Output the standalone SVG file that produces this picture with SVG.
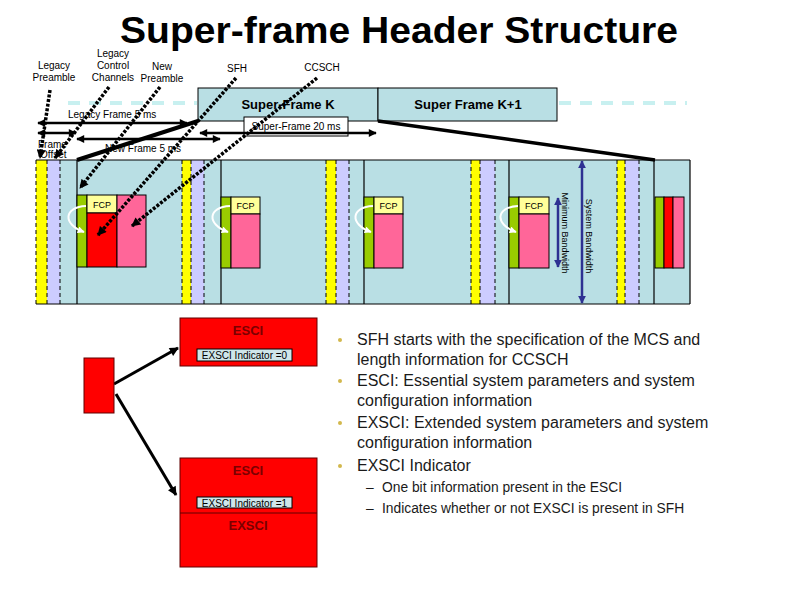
<svg xmlns="http://www.w3.org/2000/svg" width="800" height="600" viewBox="0 0 800 600">
<style>
text{font-family:"Liberation Sans",Arial,sans-serif;fill:#000}
.lbl{font-size:10px}
.title{font-size:37px;font-weight:bold}
.sf{fill:#b9dfe4;stroke:#000;stroke-width:1}
.sft{font-size:13px;font-weight:bold}
.yel{fill:#ffff00}
.lav{fill:#ccccff}
.dash{stroke:#000;stroke-width:1;stroke-dasharray:4,3}
.solid{stroke:#000;stroke-width:1.2}
.grn{fill:#99cc00;stroke:#000;stroke-width:1}
.fcp{fill:#ffff99;stroke:#000;stroke-width:1}
.red{fill:#ff0000;stroke:#000;stroke-width:1}
.pink{fill:#ff6699;stroke:#000;stroke-width:1}
.fcpt{font-size:9px}
.dot{fill:none;stroke:#000;stroke-width:3.5;stroke-dasharray:3,1.6}
.arr{fill:none;stroke:#000;stroke-width:2.5}
.wc{fill:none;stroke:#fff;stroke-width:2}
.blue{stroke:#2e3192;stroke-width:2.5}
.esci{fill:#ff0000;stroke:#600000;stroke-width:1}
.esct{font-size:13px;font-weight:bold;fill:#7a0000}
.ind{fill:#cfe6ea;stroke:#000;stroke-width:1}
.indt{font-size:10px}
.bul{font-size:16px;fill:#1a1a1a}
.sub{font-size:13.8px;fill:#1a1a1a}
.bd{fill:#d2b84c}
</style>
<defs>
<marker id="ah" viewBox="0 0 10 10" refX="9" refY="5" markerWidth="10" markerHeight="8" markerUnits="userSpaceOnUse" orient="auto-start-reverse"><path d="M0,0 L10,5 L0,10 z" fill="#000"/></marker>
<marker id="dh" viewBox="0 0 10 10" refX="9" refY="5" markerWidth="10" markerHeight="9" markerUnits="userSpaceOnUse" orient="auto"><path d="M0,0 L10,5 L0,10 z" fill="#000"/></marker>
<marker id="wh" viewBox="0 0 10 10" refX="9" refY="5" markerWidth="7" markerHeight="7" markerUnits="userSpaceOnUse" orient="auto"><path d="M0,0 L10,5 L0,10 z" fill="#fff"/></marker>
<marker id="bh" viewBox="0 0 10 10" refX="9" refY="5" markerWidth="8" markerHeight="8" markerUnits="userSpaceOnUse" orient="auto-start-reverse"><path d="M0,0 L10,5 L0,10 z" fill="#2e3192"/></marker>
</defs>
<rect width="800" height="600" fill="#fff"/>
<text id="title" class="title" x="399" y="43" text-anchor="middle" textLength="558" lengthAdjust="spacingAndGlyphs">Super-frame Header Structure</text>

<g id="labels">
<text class="lbl" x="54" y="69" text-anchor="middle">Legacy</text>
<text class="lbl" x="54" y="81" text-anchor="middle">Preamble</text>
<text class="lbl" x="113" y="57" text-anchor="middle">Legacy</text>
<text class="lbl" x="113" y="69" text-anchor="middle">Control</text>
<text class="lbl" x="113" y="81" text-anchor="middle">Channels</text>
<text class="lbl" x="162" y="70" text-anchor="middle">New</text>
<text class="lbl" x="162" y="82" text-anchor="middle">Preamble</text>
<text class="lbl" x="237" y="72" text-anchor="middle">SFH</text>
<text class="lbl" x="322" y="71" text-anchor="middle">CCSCH</text>
</g>

<g id="superframes">
<line x1="68" y1="103" x2="197" y2="103" stroke="#c8f0f0" stroke-width="4" stroke-dasharray="12,9"/>
<line x1="559" y1="103" x2="687" y2="103" stroke="#c8f0f0" stroke-width="4" stroke-dasharray="12,9"/>
<g id="sfk"><rect class="sf" x="198" y="88" width="180" height="33"/><text class="sft" x="288" y="109" text-anchor="middle">Super-Frame K</text></g>
<g id="sfk1"><rect class="sf" x="378" y="88" width="179" height="33"/><text class="sft" x="468" y="109" text-anchor="middle">Super Frame K+1</text></g>
<g id="sf20"><rect x="244" y="117" width="104" height="19" fill="#fff" stroke="#000" stroke-width="1"/><text class="lbl" x="296" y="130" text-anchor="middle">Super-Frame 20 ms</text></g>
</g>

<g id="frame-labels">
<text class="lbl" x="68" y="118">Legacy Frame 5 ms</text>
<text class="lbl" x="38" y="148">Frame</text>
<text class="lbl" x="40" y="158">Offset</text>
<text class="lbl" x="105" y="152">New Frame 5 ms</text>
</g>

<g id="block">
<rect x="36" y="160" width="654" height="144" fill="#b9dfe4"/>
<rect class="yel" x="36" y="160" width="11" height="144"/><rect class="lav" x="47" y="160" width="13" height="144"/>
<rect class="yel" x="182" y="160" width="9" height="144"/><rect class="lav" x="191" y="160" width="13" height="144"/>
<rect class="yel" x="326" y="160" width="10" height="144"/><rect class="lav" x="336" y="160" width="13" height="144"/>
<rect class="yel" x="471" y="160" width="9" height="144"/><rect class="lav" x="480" y="160" width="15" height="144"/>
<rect class="yel" x="617" y="160" width="8" height="144"/><rect class="lav" x="625" y="160" width="14" height="144"/>
<g class="dash">
<line x1="36" y1="160" x2="36" y2="304"/><line x1="47" y1="160" x2="47" y2="304"/><line x1="60" y1="160" x2="60" y2="304"/>
<line x1="182" y1="160" x2="182" y2="304"/><line x1="191" y1="160" x2="191" y2="304"/><line x1="204" y1="160" x2="204" y2="304"/>
<line x1="326" y1="160" x2="326" y2="304"/><line x1="336" y1="160" x2="336" y2="304"/><line x1="349" y1="160" x2="349" y2="304"/>
<line x1="471" y1="160" x2="471" y2="304"/><line x1="480" y1="160" x2="480" y2="304"/><line x1="495" y1="160" x2="495" y2="304"/>
<line x1="617" y1="160" x2="617" y2="304"/><line x1="625" y1="160" x2="625" y2="304"/><line x1="639" y1="160" x2="639" y2="304"/>
</g>
<g class="solid">
<line x1="36" y1="160" x2="690" y2="160"/><line x1="36" y1="304" x2="690" y2="304"/><line x1="690" y1="160" x2="690" y2="304"/>
<line x1="77" y1="160" x2="77" y2="304"/><line x1="221" y1="160" x2="221" y2="304"/><line x1="364" y1="160" x2="364" y2="304"/><line x1="509" y1="160" x2="509" y2="304"/><line x1="654" y1="160" x2="654" y2="304"/>
</g>
</g>

<g id="frame1">
<rect class="grn" x="77" y="195" width="10" height="72"/>
<rect class="fcp" x="87" y="195" width="30" height="18"/><text class="fcpt" x="102" y="208" text-anchor="middle">FCP</text>
<rect class="red" x="87" y="213" width="30" height="54"/>
<rect class="pink" x="117" y="195" width="29" height="72"/>
<path class="wc" d="M86,206 C64,207 62,224 84,232" marker-end="url(#wh)"/>
</g>
<g id="frame2">
<rect class="grn" x="221" y="197" width="10" height="71"/>
<rect class="fcp" x="231" y="197" width="29" height="17"/><text class="fcpt" x="245.5" y="209" text-anchor="middle">FCP</text>
<rect class="pink" x="231" y="214" width="29" height="54"/>
<path class="wc" d="M230,206 C208,207 206,224 228,232" marker-end="url(#wh)"/>
</g>
<g id="frame3">
<rect class="grn" x="364" y="197" width="10" height="71"/>
<rect class="fcp" x="374" y="197" width="29" height="17"/><text class="fcpt" x="388.5" y="209" text-anchor="middle">FCP</text>
<rect class="pink" x="374" y="214" width="29" height="54"/>
<path class="wc" d="M373,206 C351,207 349,224 371,232" marker-end="url(#wh)"/>
</g>
<g id="frame4">
<rect class="grn" x="509" y="197" width="10" height="71"/>
<rect class="fcp" x="519" y="197" width="30" height="17"/><text class="fcpt" x="534" y="209" text-anchor="middle">FCP</text>
<rect class="pink" x="519" y="214" width="30" height="54"/>
<path class="wc" d="M518,206 C496,207 494,224 516,232" marker-end="url(#wh)"/>
</g>
<g id="frame5">
<rect class="grn" x="655" y="197" width="9" height="71"/>
<rect class="red" x="664" y="197" width="9" height="71"/>
<rect class="pink" x="673" y="197" width="11" height="71"/>
</g>

<g id="bandwidth">
<line class="blue" x1="558" y1="198" x2="558" y2="267" marker-start="url(#bh)" marker-end="url(#bh)"/>
<text transform="translate(562,233) rotate(90)" font-size="9" text-anchor="middle">Minimum Bandwidth</text>
<line class="blue" x1="582" y1="161" x2="582" y2="303" marker-start="url(#bh)" marker-end="url(#bh)"/>
<text transform="translate(586,236) rotate(90)" font-size="9" text-anchor="middle">System Bandwidth</text>
</g>

<g id="connectors">
<line class="arr" x1="38" y1="123" x2="187" y2="123" marker-start="url(#ah)" marker-end="url(#ah)"/>
<line class="arr" x1="38" y1="133" x2="76" y2="133" marker-start="url(#ah)" marker-end="url(#ah)"/>
<line class="arr" x1="77" y1="139" x2="220" y2="139" marker-start="url(#ah)" marker-end="url(#ah)"/>
<line class="arr" x1="200" y1="133" x2="376" y2="133" marker-start="url(#ah)" marker-end="url(#ah)"/>
<line x1="77" y1="160" x2="198" y2="121" stroke="#000" stroke-width="4"/>
<line x1="378" y1="121" x2="655" y2="160" stroke="#000" stroke-width="3.5"/>
<line class="dot" x1="50" y1="90" x2="40" y2="158" marker-end="url(#dh)"/>
<line class="dot" x1="109" y1="87" x2="55" y2="158" marker-end="url(#dh)"/>
<line class="dot" x1="160" y1="87" x2="80" y2="188" marker-end="url(#dh)"/>
<line class="dot" x1="236" y1="78" x2="98" y2="235" marker-end="url(#dh)"/>
<line class="dot" x1="317" y1="78" x2="132" y2="226" marker-end="url(#dh)"/>
<line x1="114" y1="384" x2="178" y2="348" stroke="#000" stroke-width="3" marker-end="url(#dh)"/>
<line x1="116" y1="394" x2="176" y2="495" stroke="#000" stroke-width="3" marker-end="url(#dh)"/>
</g>

<g id="sfh-block"><rect class="esci" x="84" y="358" width="30" height="55"/></g>
<g id="esci0">
<rect class="esci" x="180" y="318" width="137" height="48"/>
<text class="esct" x="248" y="335" text-anchor="middle">ESCI</text>
<rect class="ind" x="197" y="349" width="95" height="12"/>
<text class="indt" x="244.5" y="359" text-anchor="middle">EXSCI Indicator =0</text>
</g>
<g id="esci1">
<rect class="esci" x="180" y="458" width="137" height="109"/>
<line x1="180" y1="513" x2="317" y2="513" stroke="#600000" stroke-width="1"/>
<text class="esct" x="248" y="475" text-anchor="middle">ESCI</text>
<rect class="ind" x="197" y="497" width="95" height="11"/>
<text class="indt" x="244.5" y="506.5" text-anchor="middle">EXSCI Indicator =1</text>
<text class="esct" x="248" y="530" text-anchor="middle">EXSCI</text>
</g>

<g id="bullets">
<circle class="bd" cx="340" cy="340" r="2"/>
<circle class="bd" cx="340" cy="381" r="2"/>
<circle class="bd" cx="340" cy="423" r="2"/>
<circle class="bd" cx="340" cy="466" r="2"/>
<text class="bul" x="357" y="345">SFH starts with the specification of  the MCS and</text>
<text class="bul" x="357" y="365">length information for CCSCH</text>
<text class="bul" x="357" y="386">ESCI: Essential system parameters and system</text>
<text class="bul" x="357" y="406">configuration information</text>
<text class="bul" x="357" y="428">EXSCI: Extended system parameters and system</text>
<text class="bul" x="357" y="448">configuration information</text>
<text class="bul" x="357" y="471">EXSCI Indicator</text>
<text class="sub" x="366" y="492">–</text>
<text class="sub" x="382" y="492">One bit information present in the ESCI</text>
<text class="sub" x="366" y="513">–</text>
<text class="sub" x="382" y="513">Indicates whether or not EXSCI is present in SFH</text>
</g>
</svg>
